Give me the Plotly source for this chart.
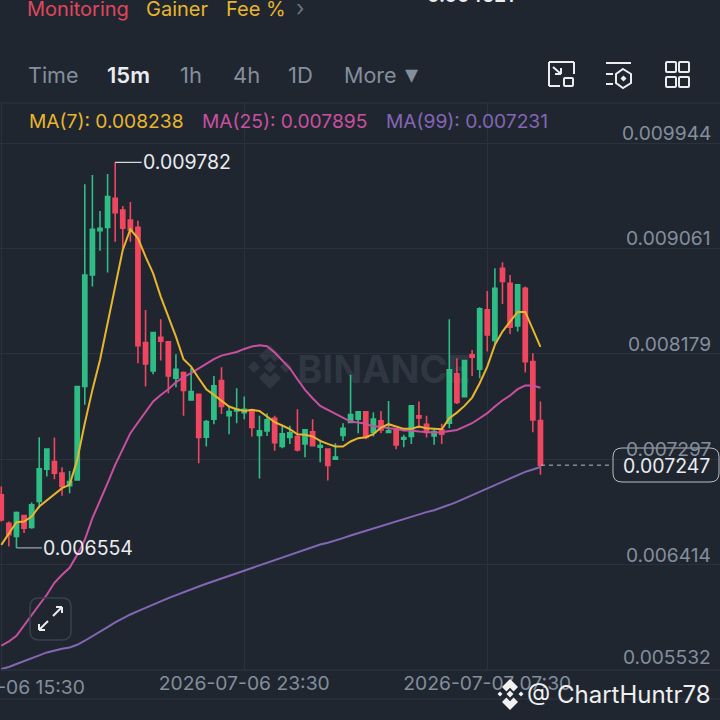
import pandas as pd
import plotly.graph_objects as go

BG = "#1F2630"
GRID = "#2B323D"
GRAY = "#848E9C"
UP = "#2EBD85"
DOWN = "#F0465F"
YEL = "#E8B52E"
MAG = "#C9509F"
PUR = "#8466B5"
FONT = "Inter"

opens = [.006998, .006761, .006650, .006826, .006725, .006943, .007213, .007277, .007180, .007074,
         .007124, .007905, .008839, .009210, .009238, .009481, .009383, .009300, .009238, .008273,
         .008036, .008318, .008279, .007975, .008022, .007793, .007841, .007481, .007632, .007955,
         .007660, .007701, .007687, .007710, .007495, .007534, .007640, .007403, .007478, .007487,
         .007425, .007526, .007397, .007381, .007297, .007495, .007604, .007632, .007693, .007520,
         .007618, .007520, .007542, .007464, .007487, .007660, .007590, .007492, .007542, .007598,
         .008011, .007821, .008170, .008050, .008547, .008290, .008895, .008770, .008413, .008728,
         .008114, .007621]
highs = [.007068, .006775, .006859, .006831, .006934, .007481, .007381, .007478, .007230, .007199,
         .007911, .009598, .009676, .009375, .009685, .009782, .009417, .009450, .009294, .008547,
         .008360, .008469, .008282, .008176, .008031, .008058, .007844, .007626, .007994, .008067,
         .007743, .007891, .007821, .007715, .007660, .007682, .007660, .007576, .007576, .007715,
         .007548, .007632, .007459, .007381, .007431, .007598, .008003, .007696, .007696, .007690,
         .007701, .007785, .007542, .007501, .007746, .007780, .007660, .007556, .007593, .008468,
         .008142, .008128, .008212, .008569, .008705, .008895, .008945, .008839, .008764, .008742,
         .008184, .007780]
lows = [.006775, .006566, .006554, .006678, .006714, .006887, .007152, .007130, .006990, .007012,
        .007124, .007752, .008742, .009043, .008859, .009118, .009063, .009118, .008100, .007905,
        .008008, .008123, .007849, .007899, .007660, .007788, .007263, .007403, .007590, .007676,
        .007506, .007598, .007632, .007487, .007135, .007492, .007367, .007389, .007425, .007361,
        .007314, .007409, .007272, .007118, .007297, .007450, .007598, .007515, .007464, .007487,
        .007515, .007520, .007381, .007397, .007425, .007556, .007478, .007417, .007425, .007556,
        .007760, .007816, .007994, .007975, .008198, .008254, .008597, .008346, .008365, .008022,
        .007523, .007166]
closes = [.006789, .006664, .006851, .006720, .006915, .007216, .007381, .007180, .007068, .007110,
          .007905, .008839, .009222, .009230, .009495, .009361, .009230, .009216, .008248, .008095,
          .008357, .008284, .007994, .008050, .007872, .007863, .007478, .007612, .007911, .007738,
          .007696, .007715, .007715, .007562, .007534, .007626, .007436, .007509, .007517, .007375,
          .007542, .007409, .007411, .007244, .007314, .007556, .007671, .007693, .007478, .007634,
          .007542, .007534, .007417, .007478, .007743, .007643, .007520, .007528, .007506, .008045,
          .007771, .008123, .008150, .008555, .008337, .008728, .008784, .008402, .008756, .008114,
          .007626, .007247]
ma7 = [.006580, .006678, .006770, .006775, .006817, .006901, .006951, .006998, .007054, .007082,
       .007291, .007598, .007877, .008128, .008435, .008770, .009049, .009222, .009146, .008993,
       .008853, .008658, .008491, .008323, .008134, .008072, .007975, .007883, .007835, .007788,
       .007738, .007715, .007701, .007710, .007701, .007654, .007607, .007579, .007548, .007506,
       .007501, .007487, .007450, .007425, .007403, .007403, .007445, .007473, .007481, .007506,
       .007562, .007590, .007570, .007551, .007551, .007570, .007556, .007551, .007548, .007640,
       .007687, .007743, .007813, .007933, .008072, .008254, .008365, .008449, .008530, .008530,
       .008379, .008238]
ma25 = [.005735, .005771, .005819, .005902, .005994, .006078, .006162, .006262, .006329, .006388,
        .006496, .006622, .006803, .006943, .007096, .007250, .007389, .007515, .007604, .007696,
        .007780, .007835, .007883, .007941, .007983, .008017, .008058, .008095, .008134, .008164,
        .008181, .008195, .008220, .008240, .008251, .008243, .008190, .008123, .008058, .007966,
        .007877, .007807, .007743, .007710, .007676, .007640, .007612, .007604, .007593, .007570,
        .007570, .007556, .007551, .007537, .007537, .007528, .007523, .007520, .007523, .007534,
        .007542, .007570, .007598, .007640, .007682, .007738, .007788, .007830, .007883, .007913,
        .007913, .007895]
ma99 = [.005540, .005557, .005582, .005604, .005626, .005654, .005679, .005696, .005710, .005721,
        .005743, .005777, .005813, .005855, .005891, .005930, .005967, .005997, .006025, .006050,
        .006078, .006106, .006134, .006159, .006187, .006209, .006231, .006254, .006276, .006298,
        .006318, .006343, .006365, .006385, .006407, .006429, .006450, .006474, .006496, .006519,
        .006541, .006563, .006583, .006597, .006614, .006636, .006658, .006678, .006697, .006720,
        .006739, .006758, .006778, .006798, .006817, .006837, .006854, .006870, .006890, .006915,
        .006940, .006968, .006996, .007024, .007051, .007080, .007107, .007138, .007168, .007191,
        .007210, .007231]

dates = pd.date_range("2026-07-06 15:30", periods=len(opens), freq="15min")
y_ticks = [.009944, .009061, .008179, .007297, .006414, .005532]
y_labels = ["0.009944", "0.009061", "0.008179", "0.007297", "0.006414", "0.005532"]
x_ticks = ["2026-07-06 15:30", "2026-07-06 23:30", "2026-07-07 07:30"]
last_price = .007247
high_price = .009782
low_price = .006554


# chrome of the app screen is laid out in page pixels
def px(x):
    return x / 720


def py(y):
    return 1 - y / 720


def seg(x0, y0, x1, y1, color="#EAECEF", width=2):
    return dict(type="line", xref="paper", yref="paper", x0=px(x0), y0=py(y0), x1=px(x1), y1=py(y1),
                line=dict(color=color, width=width))


def round_box(x0, y0, x1, y1, r, color, width=1.5):
    d = (f"M {px(x0 + r)} {py(y0)} L {px(x1 - r)} {py(y0)} Q {px(x1)} {py(y0)} {px(x1)} {py(y0 + r)} "
         f"L {px(x1)} {py(y1 - r)} Q {px(x1)} {py(y1)} {px(x1 - r)} {py(y1)} "
         f"L {px(x0 + r)} {py(y1)} Q {px(x0)} {py(y1)} {px(x0)} {py(y1 - r)} "
         f"L {px(x0)} {py(y0 + r)} Q {px(x0)} {py(y0)} {px(x0 + r)} {py(y0)} Z")
    return dict(type="path", xref="paper", yref="paper", path=d, line=dict(color=color, width=width))


def diamond(cx, cy, r, color, layer="above"):
    d = (f"M {px(cx - r)} {py(cy)} L {px(cx)} {py(cy - r)} L {px(cx + r)} {py(cy)} "
         f"L {px(cx)} {py(cy + r)} Z")
    return dict(type="path", xref="paper", yref="paper", path=d, fillcolor=color, layer=layer,
                line=dict(width=0))


def chevron(cx, cy, r, color, up=True, layer="above"):
    s = -1 if up else 1
    t = r * 0.55
    d = (f"M {px(cx - r)} {py(cy)} L {px(cx)} {py(cy + s * r)} L {px(cx + r)} {py(cy)} "
         f"L {px(cx + r - t)} {py(cy - s * t)} L {px(cx)} {py(cy + s * (r - 2 * t))} L {px(cx - r + t)} {py(cy - s * t)} Z")
    return dict(type="path", xref="paper", yref="paper", path=d, fillcolor=color, layer=layer,
                line=dict(width=0))


def label(x, y, text, color=GRAY, size=19, anchor="left", weight=None):
    return dict(x=px(x), y=py(y), xref="paper", yref="paper", text=text, showarrow=False,
                xanchor=anchor, yanchor="middle", font=dict(family=FONT, size=size, color=color, weight=weight))


fig = go.Figure()
fig.add_trace(go.Candlestick(
    x=dates, open=opens, high=highs, low=lows, close=closes,
    increasing=dict(line=dict(color=UP, width=1.6), fillcolor=UP),
    decreasing=dict(line=dict(color=DOWN, width=1.6), fillcolor=DOWN),
    whiskerwidth=0, showlegend=False,
))
fig.add_trace(go.Scatter(x=dates, y=ma99, mode="lines", line=dict(color=PUR, width=2), showlegend=False))
fig.add_trace(go.Scatter(x=dates, y=ma25, mode="lines", line=dict(color=MAG, width=2), showlegend=False))
fig.add_trace(go.Scatter(x=dates, y=ma7, mode="lines", line=dict(color=YEL, width=2), showlegend=False))

shapes = [
    seg(0, 103, 720, 103, GRID, 1.5),
    seg(0, 699, 720, 699, GRID, 1.5),
    seg(0, 670, 720, 670, GRID, 1.5),
    # last price marker
    dict(type="line", xref="paper", yref="y", x0=px(541), x1=px(612), y0=last_price, y1=last_price,
         line=dict(color="#B7BDC6", width=1, dash="4px,4px")),
    round_box(613, 448, 719, 482, 9, "#B7BDC6", 1),
    # expand button
    round_box(30, 598, 71, 640, 9, "#3A414C", 1.5),
    seg(39, 630, 48, 621), seg(53, 616, 62, 607),
    seg(39, 630, 39, 624), seg(39, 630, 45, 630),
    seg(62, 607, 62, 613), seg(62, 607, 56, 607),
    # toolbar icon 1
    seg(549, 86, 549, 62), seg(549, 62, 574, 62), seg(574, 62, 574, 74), seg(549, 86, 560, 86),
    round_box(564, 78, 573, 86, 1, "#EAECEF", 2),
    seg(553, 67, 561, 74), seg(561, 74, 561, 68), seg(561, 74, 555, 74),
    # toolbar icon 2
    seg(606, 63, 631, 63), seg(606, 74, 613, 74), seg(606, 84, 613, 84),
    dict(type="path", xref="paper", yref="paper", line=dict(color="#EAECEF", width=2),
         path=f"M {px(623)} {py(69)} L {px(631)} {py(74)} L {px(631)} {py(83)} L {px(623)} {py(88)} "
              f"L {px(616)} {py(83)} L {px(616)} {py(74)} Z"),
    diamond(623.5, 78.5, 3, "#EAECEF"),
    # toolbar icon 3
    round_box(666, 62, 676, 72, 1, "#EAECEF", 2), round_box(679, 62, 689, 72, 1, "#EAECEF", 2),
    round_box(666, 77, 676, 87, 1, "#EAECEF", 2), round_box(679, 77, 689, 87, 1, "#EAECEF", 2),
    # chart watermark
    chevron(270, 356, 11, "#2F3742", True, "below"), chevron(270, 378, 11, "#2F3742", False, "below"),
    diamond(270, 367, 6, "#2F3742", "below"), diamond(254, 367, 6, "#2F3742", "below"),
    diamond(286, 367, 6, "#2F3742", "below"),
    dict(type="rect", xref="paper", yref="paper", x0=px(298), x1=px(470), y0=py(350), y1=py(385),
         layer="below", line=dict(width=0), fillcolor="rgba(0,0,0,0)",
         label=dict(text="BINANCE", font=dict(family=FONT, size=38, color="#2F3742", weight=700),
                    textposition="middle center")),
    # bottom watermark logo
    chevron(510, 687, 8, "#F2F2F2"), chevron(510, 702, 8, "#F2F2F2", False),
    diamond(510, 694, 3.5, "#F2F2F2"), diamond(500, 694, 2.5, "#F2F2F2"), diamond(521, 694, 2.5, "#F2F2F2"),
]

annotations = [
    label(25, 9, "Monitoring", "#E0475B", 20),
    label(144, 9, "Gainer", YEL, 20),
    label(224, 9, "Fee %", YEL, 20),
    label(294, 8, "›", "#6B7280", 22),
    label(470, -5, "0.004521", "#EAECEF", 19, "center", 600),
    label(26, 75, "Time", GRAY, 21.5),
    label(105, 75, "15m", "#EAECEF", 22, weight=600),
    label(178, 75, "1h", GRAY, 22),
    label(231, 75, "4h", GRAY, 22),
    label(286, 75, "1D", GRAY, 22),
    label(342, 75, "More", GRAY, 21.5),
    label(411, 74, "▾", GRAY, 26, "center"),
    label(27, 121, "MA(7): 0.008238", YEL, 19.2),
    label(200, 121, "MA(25): 0.007895", MAG, 19.2),
    label(384, 121, "MA(99): 0.007231", PUR, 19.2),
    label(666, 466, "0.007247", "#EAECEF", 19.5, "center"),
    label(525, 694, "@ ChartHuntr78", "#EFEFEF", 24),
    # the first time label runs off the left edge of the page, the axis would drop it
    dict(x=dates[0], y=py(687), xref="x", yref="paper", text="2026-07-06 15:30", showarrow=False,
         xanchor="center", yanchor="middle", font=dict(family=FONT, size=19.3, color=GRAY)),
]
for v, t in zip(y_ticks, y_labels):
    annotations.append(dict(x=px(713), y=v, xref="paper", yref="y", text=t, showarrow=False,
                            yshift=13 if t == "0.005532" else 10,
                            xanchor="right", yanchor="middle", font=dict(family=FONT, size=19.2, color=GRAY)))
annotations.append(dict(x=dates[15], y=high_price, xref="x", yref="y", text="0.009782", ax=72, ay=0,
                        arrowhead=0, arrowwidth=1.2, arrowcolor="#D5D9DE",
                        font=dict(family=FONT, size=19.5, color="#EAECEF")))
annotations.append(dict(x=dates[2], y=low_price, xref="x", yref="y", text="0.006554", ax=72, ay=0,
                        arrowhead=0, arrowwidth=1.2, arrowcolor="#9AA1AB",
                        font=dict(family=FONT, size=19.5, color="#EAECEF")))

fig.update_layout(
    width=720, height=720,
    margin=dict(l=0, r=0, t=0, b=0),
    paper_bgcolor=BG, plot_bgcolor=BG,
    boxgap=0.22,
    showlegend=False,
    shapes=shapes,
    annotations=annotations,
    xaxis=dict(
        domain=[0, 1], type="date", range=["2026-07-06 15:27:30", "2026-07-07 15:09:40"],
        rangeslider=dict(visible=False), tickmode="array", tickvals=x_ticks,
        tickformat="%Y-%m-%d %H:%M", tickfont=dict(family=FONT, size=19.3, color=GRAY),
        showgrid=True, gridcolor=GRID, gridwidth=1, ticks="", zeroline=False, showline=False,
    ),
    yaxis=dict(
        domain=[py(670), py(103)], range=[.005532, .010279], tickmode="array", tickvals=y_ticks,
        showticklabels=False, showgrid=True, gridcolor=GRID, gridwidth=1, ticks="", zeroline=False,
    ),
)

fig.write_html("out.html", post_script="document.body.style.margin='0';",
               config=dict(displayModeBar=False))
